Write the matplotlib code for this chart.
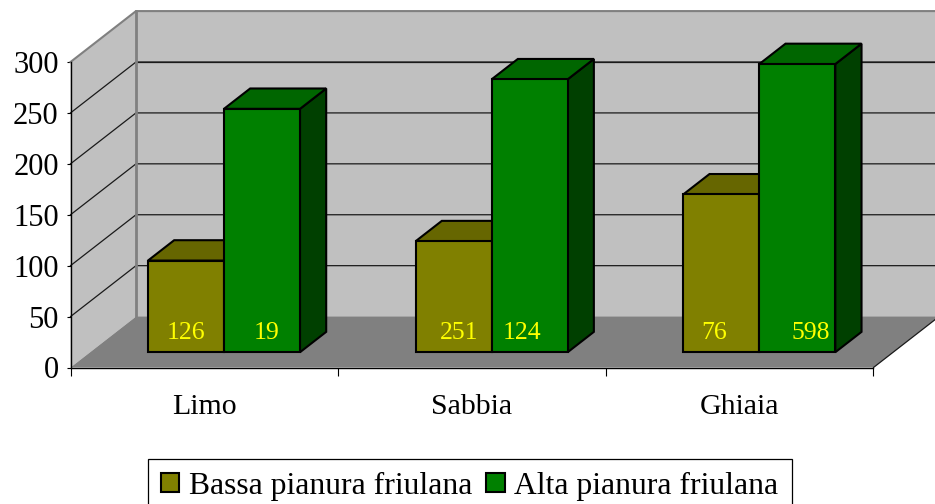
import matplotlib
matplotlib.use("Agg")
from matplotlib import pyplot as plt
from matplotlib.patches import Patch, Polygon

categorie = ["Limo", "Sabbia", "Ghiaia"]
bassa = [90, 109, 155]
alta = [239, 268, 283]
etichette_bassa = ["126", "251", "76"]
etichette_alta = ["19", "124", "598"]
tick_y = [0, 50, 100, 150, 200, 250, 300]
nomi = ["Bassa pianura friulana", "Alta pianura friulana"]

W, H = 935, 504
X0, X1, Y0, Y300 = 70.5, 873.5, 367.5, 62.0
DX, DY = 0.2447, 50.0  # spostamento della parete di fondo (unita' dei dati)
LARG = 0.284
D_FRONTE, D_RETRO = 0.3, 0.7

# spostamento in pixel delle etichette rispetto al centro della barra
shift_bassa = [0, 5, -7]
shift_alta = [5, -8, 13]

plt.rcParams["font.family"] = ["Liberation Serif", "DejaVu Serif"]

fig = plt.figure(figsize=(W / 100, H / 100), dpi=100)
ax = fig.add_axes([X0 / W, (H - Y0) / H, (X1 - X0) / W, (Y0 - Y300) / H])
ax.set_xlim(0, 3)
ax.set_ylim(0, 300)
ax.patch.set_visible(False)


def proj(x, v, d):
    return (x + d * DX, v + d * DY)


def faccia(punti, colore, ec="none", lw=0, z=1):
    ax.add_patch(Polygon(punti, closed=True, fc=colore, ec=ec, lw=lw, zorder=z,
                         clip_on=False, joinstyle="miter"))


# pareti e pavimento
faccia([proj(0, 0, 1), proj(3, 0, 1), proj(3, 300, 1), proj(0, 300, 1)], "#C0C0C0")
faccia([proj(0, 0, 0), proj(0, 0, 1), proj(0, 300, 1), proj(0, 300, 0)], "#C0C0C0")
faccia([proj(0, 0, 0), proj(3, 0, 0), proj(3, 0, 1), proj(0, 0, 1)], "#808080")

# griglia
for v in tick_y[1:-1]:
    a, b, c = proj(0, v, 0), proj(0, v, 1), proj(3, v, 1)
    ax.plot([a[0], b[0], c[0]], [a[1], b[1], c[1]], color="#1a1a1a", lw=0.9,
            zorder=2, clip_on=False)
a, b, c = proj(0, 300, 0), proj(0, 300, 1), proj(3, 300, 1)
ax.plot([b[0], c[0]], [b[1] - 50, c[1] - 50], color="#1a1a1a", lw=0.9, zorder=2, clip_on=False)
ax.plot([a[0], b[0], c[0]], [a[1], b[1], c[1]], color="#808080", lw=1.5, zorder=3, clip_on=False)
a, b = proj(0, 0, 1), proj(0, 300, 1)
ax.plot([a[0], b[0]], [a[1], b[1]], color="#808080", lw=2, zorder=3, clip_on=False)
a, b = proj(3, 0, 0), proj(3, 0, 1)
ax.plot([a[0], b[0]], [a[1], b[1]], color="#1a1a1a", lw=0.9, zorder=3, clip_on=False)


def barra(x, v, fronte, sopra, lato, z):
    x2 = x + LARG
    faccia([proj(x2, 0, D_FRONTE), proj(x2, 0, D_RETRO), proj(x2, v, D_RETRO), proj(x2, v, D_FRONTE)],
           lato, "black", 1.5, z)
    faccia([proj(x, v, D_FRONTE), proj(x2, v, D_FRONTE), proj(x2, v, D_RETRO), proj(x, v, D_RETRO)],
           sopra, "black", 1.5, z)
    faccia([proj(x, 0, D_FRONTE), proj(x2, 0, D_FRONTE), proj(x2, v, D_FRONTE), proj(x, v, D_FRONTE)],
           fronte, "black", 1.5, z + 0.1)


for i in range(len(categorie)):
    c = i + 0.5
    barra(c - LARG, bassa[i], "#808000", "#666600", "#404000", 4 + i)
    barra(c, alta[i], "#008000", "#006600", "#004000", 4.5 + i)
    for x, testo, s in [(c - LARG / 2, etichette_bassa[i], shift_bassa[i]),
                        (c + LARG / 2, etichette_alta[i], shift_alta[i])]:
        ax.annotate(testo, proj(x, 0, D_FRONTE), xytext=(s, 13), textcoords="offset pixels",
                    color="#FFFF00", fontsize=18.5, ha="center", va="baseline", zorder=10)

# assi
ax.spines["top"].set_visible(False)
ax.spines["right"].set_visible(False)
for s in ["left", "bottom"]:
    ax.spines[s].set_linewidth(1)
    ax.spines[s].set_zorder(3)
ax.set_yticks(tick_y)
ax.tick_params(axis="y", length=3, width=0.8, pad=5.5, labelsize=22)
ax.set_xticks([0, 1, 2, 3])
ax.set_xticklabels([])
ax.tick_params(axis="x", which="major", length=6, width=0.8)
ax.set_xticks([0.5, 1.5, 2.5], minor=True)
ax.set_xticklabels(categorie, minor=True)
ax.tick_params(axis="x", which="minor", length=0, pad=19, labelsize=21.5)

# legenda
maniglie = [Patch(fc="#808000", ec="black", lw=1.5), Patch(fc="#008000", ec="black", lw=1.5)]
leg = fig.legend(maniglie, nomi, ncol=2, loc="upper left", bbox_to_anchor=(147.5 / W, (H - 458.5) / H),
                 fontsize=22.8, frameon=True, fancybox=False, edgecolor="black", framealpha=1,
                 borderaxespad=0, borderpad=0.42, handlelength=0.58, handleheight=0.58,
                 handletextpad=0.3, columnspacing=0.45)
leg.get_frame().set_linewidth(0.9)

fig.savefig("out.png", dpi=100)
